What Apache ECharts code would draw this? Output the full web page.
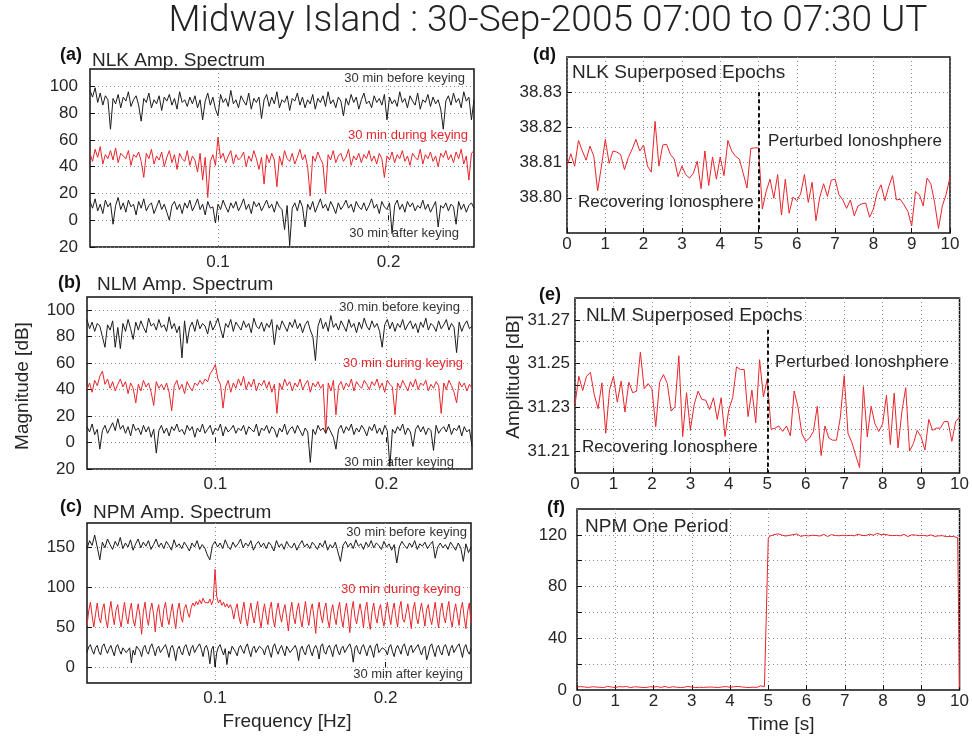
<!DOCTYPE html>
<html>
<head>
<meta charset="utf-8">
<script src="https://cdn.jsdelivr.net/npm/echarts@6/dist/echarts.min.js"></script>
<style>
  html, body { margin: 0; background: #fff; }
  #chart { width: 972px; height: 736px; }
</style>
</head>
<body>
<div id="chart"></div>
<script>
// ---- frequency grids of the spectra ----
const freqStart = 0.025
const freqStepCoarse = 0.0015
const freqStepFine = 0.001
const timeStepEpoch = 0.1
const timeStepPeriod = 0.05

// ---- tick labels ----
const freqTicks = [0.1, 0.2]
const nlkMagTicks = [-20, 0, 20, 40, 60, 80, 100]
const nlmMagTicks = [-20, 0, 20, 40, 60, 80, 100]
const npmMagTicks = [0, 50, 100, 150]
const nlkEpochTicks = [38.80, 38.81, 38.82, 38.83]
const nlmEpochTicks = [31.21, 31.22, 31.23, 31.24, 31.25, 31.26, 31.27]
const nlmEpochLabels = [31.21, 31.23, 31.25, 31.27]
const npmPeriodTicks = [20, 40, 60, 80, 100, 120]
const npmPeriodLabels = [0, 40, 80, 120]

// ---- (a) NLK amplitude spectrum [dB] ----
const nlkBefore = [
  97,92,99,88,95,86,93,90,68,91, 87,94,84,92,89,96,85,90,93,86,
  74,91,88,95,84,90,87,93,82,92, 89,94,86,91,83,96,88,90,85,92,
  87,93,84,90,75,89,95,86,92,83, 78,94,88,91,85,97,87,90,84,93,
  89,86,95,83,91,88,92,76,90,94, 85,92,87,96,84,90,88,93,82,91,
  89,95,86,92,84,90,87,94,83,91, 88,93,85,96,87,90,84,92,89,78,
  91,86,94,88,92,83,90,95,87,89, 84,93,88,91,86,94,75,92,87,90,
  85,96,88,91,84,93,89,86,95,83, 90,88,94,85,92,87,90,83,68,89,
  93,86,95,88,91,84,96,89,92,75, 90
]
const nlkDuring = [
  50,44,53,47,55,42,49,46,52,45, 54,43,50,48,46,52,41,49,47,51,
  44,32,50,46,53,42,48,45,51,40, 47,52,43,49,38,50,46,44,52,41,
  48,45,36,50,30,47,17,44,49,41, 62,46,50,43,48,52,42,49,45,47,
  51,40,48,44,52,46,38,47,27,49, 43,50,45,25,48,41,52,46,44,50,
  42,47,53,45,49,40,18,48,44,51, 46,42,20,49,45,52,43,48,50,44,
  47,53,41,48,45,50,43,49,46,52, 44,48,42,50,46,32,48,45,51,43,
  49,46,52,44,48,41,50,47,45,53, 42,49,46,51,44,48,40,50,47,52,
  45,49,43,51,46,53,42,48,30,50, 52
]
const nlkAfter = [
  14,9,16,7,12,5,15,10,13,-3, 11,17,8,13,6,15,10,12,4,14,
  9,16,7,11,13,5,10,15,8,12, 6,0,11,14,8,12,5,13,9,15,
  7,11,16,8,12,4,14,9,10,-2, 12,8,15,10,6,13,9,14,7,11,
  16,8,12,5,14,10,13,7,11,15, 9,12,6,14,10,8,-7,11,-19,9,
  13,7,15,10,-5,12,8,14,6,11, 16,9,12,7,14,10,5,13,8,11,
  15,9,12,6,14,10,8,13,7,11, 16,9,12,5,14,10,8,13,-10,11,
  15,8,12,6,14,10,13,7,11,9, 15,8,12,6,10,14,-5,11,9,13,
  7,12,10,-3,14,8,12,6,11,13, 9
]

// ---- (b) NLM amplitude spectrum [dB] ----
const nlmBefore = [
  93,86,91,84,90,88,80,72,89,85, 92,72,87,71,90,84,93,86,78,91,
  85,92,87,83,94,88,90,85,93,87, 89,84,95,86,90,83,88,64,92,75,
  87,91,84,93,86,90,88,82,92,85, 89,94,86,79,90,87,93,84,91,88,
  85,92,87,90,83,94,88,86,91,84, 90,87,93,74,89,85,92,88,84,91,
  87,93,86,90,83,89,92,85,80,62, 88,94,86,91,84,96,87,90,85,92,
  88,84,93,87,90,83,91,86,94,88, 85,92,87,90,84,72,89,93,86,91,
  84,90,87,93,85,89,92,86,90,83, 91,87,94,85,90,88,84,92,86,89,
  93,85,90,87,68,91,84,89,92,86, 88
]
const nlmDuring = [
  40,45,38,47,43,50,54,44,48,41, 46,39,44,48,42,46,37,45,41,30,
  44,39,47,42,45,38,28,46,41,44, 40,45,38,24,43,47,40,44,37,46,
  42,39,45,43,47,44,48,46,52,55, 59,48,44,26,42,47,38,45,41,48,
  43,50,40,46,42,48,39,45,43,47, 41,46,38,44,22,45,40,48,43,46,
  39,45,42,48,40,44,47,38,45,42, 46,41,44,7,45,39,47,21,43,46,
  40,45,42,48,39,46,43,41,47,44, 40,46,43,48,41,45,38,47,44,42,
  21,45,41,47,43,39,46,42,48,40, 45,43,47,39,44,41,46,43,22,45,
  40,47,43,38,30,46,42,45,39,44, 41
]
const nlmAfter = [
  12,8,14,6,10,-5,9,13,7,11, 15,9,18,10,13,7,12,5,14,9,
  11,6,13,8,12,4,10,-8,9,13, 7,11,5,12,9,14,8,10,6,13,
  9,12,4,11,8,14,7,10,13,6, 11,9,14,5,12,8,10,13,7,11,
  9,13,6,12,10,8,14,5,11,9, 13,7,12,10,4,11,8,14,6,10,
  12,7,13,9,5,11,8,-15,10,6, 13,9,11,7,12,8,4,-5,10,13,
  7,12,9,14,6,11,8,13,10,5, 12,9,14,7,11,6,13,9,-18,10,
  7,12,9,14,6,11,8,-3,10,13, 8,12,6,11,9,-6,13,7,10,12,
  8,14,6,11,9,13,5,12,8,10, -3
]

// ---- (c) NPM amplitude spectrum [dB] ----
const npmBefore = [
  148,158,152,165,150,134,156,149,160,153, 147,157,151,162,148,155,150,159,146,154,
  160,149,156,151,158,147,153,160,150,155, 148,157,152,146,159,150,154,148,156,151,
  145,155,150,158,147,153,149,140,134,152, 157,150,155,148,159,151,147,156,150,154,
  160,149,155,151,158,146,153,157,150,155, 148,156,152,145,158,150,154,147,157,151,
  149,155,146,153,158,150,154,148,156,152, 147,155,150,158,146,153,149,156,144,132,
  152,157,150,155,148,159,151,154,147,156, 150,158,149,155,152,147,157,150,154,146,
  153,130,150,157,152,148,155,150,158,147, 154,151,156,148,153,157,136,150,155,149,
  153,147,156,151,146,155,149,132,154,143, 150
]
const npmDuring = [
  52,70,81,64, 50,66,80,62, 55,72,79,60, 49,68,82,65, 53,71,78,61,
  50,67,81,63, 54,70,80,59, 51,66,79,64, 41,69,81,62, 52,71,80,66,
  44,68,78,60, 50,72,81,63, 53,67,79,61, 48,70,80,64, 56,73,78,68,
  62,74,80,
  76,82,78,84,79,86,81,83,80,85,78,84, 122, 88,80,84,77,81,75,79,74,78,72,
  60,72,79,63, 54,70,81,62, 51,68,80,65, 55,71,82,61, 49,67,79,64,
  53,72,81,60, 50,69,80,66, 56,70,78,62, 45,68,81,63, 54,71,80,61,
  50,67,82,64, 52,70,79,62, 42,68,81,65, 55,72,80,60, 49,69,78,63,
  53,71,81,61, 50,67,80,64, 43,70,82,62, 54,68,79,66, 49,72,81,60,
  47,69,80,63, 55,71,78,61, 51,67,81,65, 53,70,80,62, 50,73,82,60,
  56,68,79,64, 48,71,81,62, 54,69,80,66, 51,72,78,61, 53,67,81,63,
  49,70,80,64, 55,71,82,60, 50,68,79,65, 52,72,81,62, 48,69,80,55
]
const npmAfter = [
  18,25,28,21, 16,24,27,19, 15,26,29,22, 17,23,27,20, 14,25,28,21,
  16,24,26,18, 17,24,5,21, 15,26,28,20, 13,24,27,19, 16,25,29,22,
  14,23,26,18, 17,25,28,21, 12,24,27,20, 8,22,26,19, 15,25,28,21,
  14,23,27,18, 16,26,29,22, 13,24,27,20, 4,22,26,0, 18,25,28,21,
  15,23,3,20, 16,26,28,19, 14,24,27,21, 17,25,29,20, 13,23,26,18,
  16,26,28,22, 15,24,27,19, 12,25,29,21, 16,23,27,20, 14,26,28,18,
  17,24,27,21, 8,22,26,19, 15,25,28,20, 14,23,27,22, 10,26,29,19,
  16,24,27,21, 13,25,28,20, 15,23,26,18, 17,26,29,22, 6,24,27,19,
  16,25,28,21, 14,23,27,20, 12,26,29,18, 17,24,26,21, 15,25,28,19,
  13,23,27,22, 16,26,29,20, 14,24,27,18, 17,25,28,21, 15,23,26,9,
  16,26,29,20, 13,24,27,19, 15,25,28,22, 14,23,27,18, 17,26,29,21,
  12,24,28,20, 16,23
]

// ---- (d) NLK superposed epochs, amplitude [dB] every 0.1 s ----
const nlkEpoch = [
  38.809,38.8125,38.809,38.8163,38.8133,38.8107,38.8147,38.8118,38.802,38.809,
  38.8166,38.8098,38.8133,38.813,38.8123,38.808,38.8114,38.8138,38.8166,38.8133,
  38.815,38.809,38.8073,38.8217,38.809,38.815,38.8152,38.8123,38.811,38.806,
  38.809,38.8066,38.8056,38.807,38.8104,38.8026,38.8133,38.8035,38.8116,38.8053,
  38.8116,38.8063,38.8163,38.8133,38.8118,38.811,38.807,38.8028,38.814,38.8142,
  38.8142,
  38.7968,38.8018,38.8053,38.7999,38.8066,38.7951,38.8053,38.7956,38.8002,38.7992,
  38.8011,38.8066,38.7987,38.8044,38.7935,38.8002,38.804,38.8004,38.805,38.8053,
  38.8009,38.7994,38.797,38.7994,38.7949,38.7977,38.7983,38.7985,38.7945,38.7968,
  38.8015,38.8037,38.7992,38.8032,38.8063,38.7994,38.7996,38.798,38.7961,38.792,
  38.8018,38.8009,38.7977,38.8056,38.804,38.7985,38.7913,38.7977,38.801,38.8059
]

// ---- (e) NLM superposed epochs, amplitude [dB] every 0.1 s ----
const nlmEpoch = [
  31.2314,31.2442,31.2377,31.2442,31.246,31.2359,31.2294,31.2412,31.2182,31.2382,
  31.2442,31.2324,31.242,31.2279,31.2415,31.2367,31.2374,31.2552,31.2385,31.2409,
  31.2385,31.2212,31.2415,31.245,31.2409,31.2283,31.2303,31.2536,31.2167,31.2367,
  31.2197,31.2314,31.2374,31.2336,31.2333,31.229,31.2344,31.2245,31.2344,31.2167,
  31.2291,31.2344,31.2485,31.2473,31.2473,31.2258,31.2379,31.223,31.2518,31.2348,
  31.243,
  31.22,31.2205,31.2215,31.219,31.2215,31.217,31.2375,31.23,31.218,31.2145,
  31.216,31.219,31.2305,31.208,31.2215,31.216,31.215,31.215,31.2255,31.2445,
  31.218,31.214,31.208,31.2025,31.2395,31.2165,31.2305,31.2225,31.219,31.2225,
  31.2355,31.213,31.2365,31.2115,31.228,31.239,31.21,31.2135,31.2195,31.2165,
  31.2105,31.2245,31.2195,31.2205,31.2205,31.2235,31.2235,31.2145,31.2235,31.2255
]

// ---- (f) NPM one period, every 0.05 s ----
const npmPeriod = [
  2.4,2.1,2.6,1.9,2.3,2.7,2.0,2.2,2.5,1.8, 2.3,2.6,2.1,2.4,1.9,2.2,2.8,2.0,2.3,2.5,
  1.9,2.2,2.6,2.1,2.4,2.0,2.7,2.3,1.8,2.2, 2.5,2.1,2.3,2.6,2.0,2.4,1.9,2.2,2.5,2.1,
  2.3,1.8,2.6,2.2,2.0,2.4,2.7,2.1,1.9,2.3, 2.5,2.0,2.2,2.6,1.9,2.3,2.1,2.4,2.8,2.0,
  2.2,2.5,1.9,2.3,2.1,2.6,2.0,2.4,2.2,1.8, 2.3,2.7,2.1,2.5,1.9,2.2,2.4,2.0,2.6,2.3,
  2.1,1.9,2.5,2.2,2.8,2.0,2.4,2.6,2.1,2.3, 1.9,2.5,2.2,2.7,2.0,2.4,3.2,2.3,2.6,2.9,
  117.5,119.2,118.6,120.1,119.4,120.8,121.5,119.9,120.6,119.1,
  120.3,119.6,118.9,120.2,119.5,120.7,119.3,118.8,120.0,119.6,
  118.4,119.2,120.1,119.7,118.9,119.5,120.3,119.1,119.8,120.4,
  119.2,118.7,119.6,120.2,119.0,119.5,120.1,119.3,118.9,119.7,
  120.2,119.4,118.8,119.6,120.0,119.3,119.8,120.5,119.1,119.6,
  120.2,119.4,119.9,120.6,119.2,119.7,120.3,121.2,119.8,120.1,
  119.5,120.4,119.0,119.7,120.2,119.4,118.9,119.6,120.1,119.3,
  119.8,120.4,119.2,118.7,119.5,120.0,119.3,119.8,120.2,119.4,
  118.9,119.6,120.3,119.1,119.7,120.0,119.4,118.8,119.5,119.2,
  118.9,119.4,119.0,118.6,119.3,118.8,119.1,118.7,119.2,117.8,
  2
]

// ---- styles ----
const RED = '#e8252b'
const BLACK = '#1b1b1b'
const TEXT = '#262626'
const FONT = "'Liberation Sans', Arial, sans-serif"

// plot areas (a) .. (f)
const grids = [
  { left: 90, top: 69, width: 384, height: 178 },
  { left: 87, top: 297, width: 385, height: 172 },
  { left: 87, top: 523, width: 384, height: 160 },
  { left: 567, top: 57, width: 383, height: 176 },
  { left: 575, top: 298, width: 385, height: 175 },
  { left: 577, top: 509, width: 383, height: 181 },
].map(g => Object.assign({ show: true, borderColor: '#111', borderWidth: 1.5, containLabel: false }, g))

const dotted = { show: true, lineStyle: { type: [1, 3], color: '#8a8a8a', width: 1 } }

function xFreq(idx) {
  return {
    type: 'value', gridIndex: idx, min: 0.025, max: 0.25,
    axisLine: { show: false },
    axisTick: { inside: true, length: 5, customValues: freqTicks, lineStyle: { color: '#111' } },
    axisLabel: { customValues: freqTicks, margin: 7, fontSize: 17, fontFamily: FONT, color: TEXT,
      formatter: v => v.toFixed(1) },
    splitLine: dotted,
  }
}
function xTime(idx, margin) {
  return {
    type: 'value', gridIndex: idx, min: 0, max: 10, interval: 1,
    axisLine: { show: false },
    axisTick: { inside: true, length: 5, lineStyle: { color: '#111' } },
    axisLabel: { margin: margin, fontSize: 17, fontFamily: FONT, color: TEXT },
    splitLine: dotted,
  }
}
function yAxis(idx, min, max, ticks, labels, fmt, margin) {
  return {
    type: 'value', gridIndex: idx, min: min, max: max,
    axisLine: { show: false },
    axisTick: { inside: true, length: 5, customValues: ticks, lineStyle: { color: '#111' } },
    axisLabel: { customValues: labels, margin: margin, fontSize: 17, fontFamily: FONT, color: TEXT, formatter: fmt },
    splitLine: dotted,
  }
}

function pts(vals, x0, dx) {
  return vals.map((v, i) => [+(x0 + i * dx).toFixed(4), v])
}
function line(idx, vals, x0, dx, color, extra) {
  return Object.assign({
    type: 'line', xAxisIndex: idx, yAxisIndex: idx, data: pts(vals, x0, dx),
    showSymbol: false, symbol: 'none', silent: true, animation: false,
    lineStyle: { color: color, width: 1 },
  }, extra || {})
}
// 调制开始时刻 (5 s) 的黑色虚线
function keyLine(y0, y1) {
  return {
    markLine: {
      silent: true, symbol: 'none', animation: false, label: { show: false },
      lineStyle: { type: [4, 3], color: '#111', width: 2 },
      data: [[{ coord: [5, y0] }, { coord: [5, y1] }]],
    },
  }
}

function text(x, y, str, size, opts) {
  opts = opts || {}
  return {
    type: 'text', x: x, y: y, rotation: opts.rotation || 0, silent: true,
    style: {
      text: str, fill: opts.color || TEXT, align: opts.align || 'left', verticalAlign: 'middle',
      fontSize: size, fontFamily: opts.family || FONT, fontWeight: opts.weight || 'normal',
    },
  }
}

const absFmt = v => String(Math.abs(v))
const fix2 = v => v.toFixed(2)

const option = {
  backgroundColor: '#fff',
  animation: false,
  grid: grids,
  xAxis: [xFreq(0), xFreq(1), xFreq(2), xTime(3, 3), xTime(4, 3), xTime(5, 3)],
  yAxis: [
    yAxis(0, -20, 113, nlkMagTicks, nlkMagTicks, absFmt, 12),
    yAxis(1, -20, 110, nlmMagTicks, nlmMagTicks, absFmt, 12),
    yAxis(2, -20, 180, npmMagTicks, npmMagTicks, absFmt, 12),
    yAxis(3, 38.79, 38.84, nlkEpochTicks, nlkEpochTicks, fix2, 5),
    yAxis(4, 31.20, 31.28, nlmEpochTicks, nlmEpochLabels, fix2, 5),
    yAxis(5, 0, 140, npmPeriodTicks, npmPeriodLabels, v => String(v), 10),
  ],
  series: [
    line(0, nlkBefore, freqStart, freqStepCoarse, BLACK),
    line(0, nlkDuring, freqStart, freqStepCoarse, RED),
    line(0, nlkAfter, freqStart, freqStepCoarse, BLACK),
    line(1, nlmBefore, freqStart, freqStepCoarse, BLACK),
    line(1, nlmDuring, freqStart, freqStepCoarse, RED),
    line(1, nlmAfter, freqStart, freqStepCoarse, BLACK),
    line(2, npmBefore, freqStart, freqStepCoarse, BLACK),
    line(2, npmDuring, freqStart, freqStepFine, RED),
    line(2, npmAfter, freqStart, freqStepFine, BLACK),
    line(3, nlkEpoch, 0, timeStepEpoch, RED, keyLine(38.83, 38.79)),
    line(4, nlmEpoch, 0, timeStepEpoch, RED, keyLine(31.2655, 31.20)),
    line(5, npmPeriod, 0, timeStepPeriod, RED),
  ],
  graphic: [
    text(548, 22, 'Midway Island : 30-Sep-2005 07:00 to 07:30 UT', 37,
      { align: 'center', family: "Roboto, 'Liberation Sans', sans-serif", weight: 300, color: '#222' }),

    text(60, 55, '(a)', 18, { weight: 'bold', color: '#111' }),
    text(92, 61, 'NLK Amp. Spectrum', 19),
    text(58, 283, '(b)', 18, { weight: 'bold', color: '#111' }),
    text(97, 285, 'NLM Amp. Spectrum', 19),
    text(60, 507, '(c)', 18, { weight: 'bold', color: '#111' }),
    text(93, 513, 'NPM Amp. Spectrum', 19),
    text(533, 55, '(d)', 18, { weight: 'bold', color: '#111' }),
    text(572, 73, 'NLK Superposed Epochs', 19),
    text(539, 295, '(e)', 18, { weight: 'bold', color: '#111' }),
    text(586, 316, 'NLM Superposed Epochs', 19),
    text(547, 508, '(f)', 18, { weight: 'bold', color: '#111' }),
    text(585, 527, 'NPM One Period', 19),

    text(465, 78, '30 min before keying', 13, { align: 'right', color: '#333' }),
    text(468, 135, '30 min during keying', 13, { align: 'right', color: RED }),
    text(459, 233, '30 min after keying', 13, { align: 'right', color: '#333' }),
    text(460, 307, '30 min before keying', 13, { align: 'right', color: '#333' }),
    text(463, 363, '30 min during keying', 13, { align: 'right', color: RED }),
    text(454, 462, '30 min after keying', 13, { align: 'right', color: '#333' }),
    text(467, 532, '30 min before keying', 13, { align: 'right', color: '#333' }),
    text(461, 589, '30 min during keying', 13, { align: 'right', color: RED }),
    text(463, 674, '30 min after keying', 13, { align: 'right', color: '#333' }),

    text(768, 141, 'Perturbed Ionoshphere', 17),
    text(578, 202, 'Recovering Ionosphere', 17),
    text(775, 362, 'Perturbed Ionoshphere', 17),
    text(582, 447, 'Recovering Ionosphere', 17),

    text(23, 386, 'Magnitude [dB]', 19, { align: 'center', rotation: Math.PI / 2 }),
    text(514, 377, 'Amplitude [dB]', 19, { align: 'center', rotation: Math.PI / 2 }),
    text(287, 722, 'Frequency [Hz]', 19, { align: 'center' }),
    text(781, 725, 'Time [s]', 19, { align: 'center' }),
  ],
}

const chart = echarts.init(document.getElementById('chart'), null, { renderer: 'canvas' })
chart.setOption(option)
</script>
</body>
</html>
